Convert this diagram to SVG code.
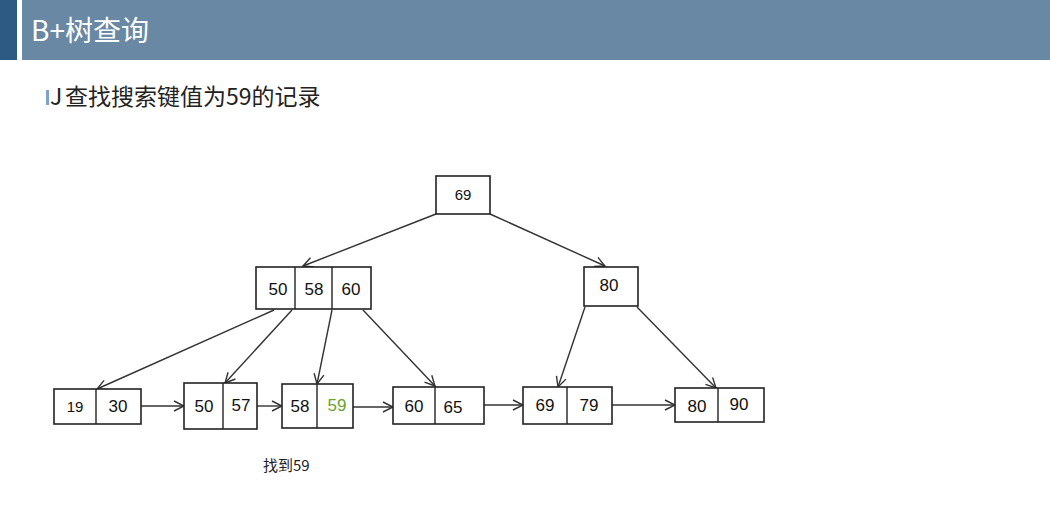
<svg xmlns="http://www.w3.org/2000/svg" width="1050" height="518" viewBox="0 0 1050 518">
<style>
.box{fill:#fff;stroke:#222;stroke-width:1.6}
.div{stroke:#222;stroke-width:1.4}
.k{font-family:"Liberation Sans","DejaVu Sans",sans-serif;font-size:17px;fill:#111;text-anchor:middle}
.ks{font-size:15px}
.g{fill:#6aa22e}
.edge{stroke:#333;stroke-width:1.4;fill:none;marker-end:url(#ah)}
.cjk{font-family:"Noto Sans CJK SC","Noto Sans",sans-serif}
</style>
<defs>
<marker id="ah" viewBox="0 0 12 12" refX="11" refY="6" markerWidth="12" markerHeight="12" markerUnits="userSpaceOnUse" orient="auto">
<path d="M1,1 L11,6 L1,11" fill="none" stroke="#333" stroke-width="1.4"/>
</marker>
</defs>
<rect width="1050" height="518" fill="#fff"/>
<g id="header">
<rect x="0" y="0" width="17" height="60" fill="#2c5a82"/>
<rect x="22" y="0" width="1028" height="60" fill="#6888a3"/>
<text x="31" y="41" class="cjk" font-size="28" fill="#fff">B+树查询</text>
</g>
<g id="subtitle">
<rect x="46" y="90" width="3" height="15" fill="#7fa3c6"/>
<text x="50" y="105" class="cjk" font-size="23" fill="#222">J<tspan x="65">查找搜索键值为59的记录</tspan></text>
</g>
<g id="connectors">
<line class="edge" x1="436" y1="214" x2="303" y2="266"/>
<line class="edge" x1="490" y1="214" x2="605" y2="266"/>
<line class="edge" x1="274" y1="310" x2="97" y2="389"/>
<line class="edge" x1="292" y1="310" x2="225" y2="383"/>
<line class="edge" x1="332" y1="310" x2="317" y2="384"/>
<line class="edge" x1="363" y1="310" x2="435" y2="386"/>
<line class="edge" x1="585" y1="307" x2="558" y2="387"/>
<line class="edge" x1="637" y1="307" x2="716" y2="388"/>
<line class="edge" x1="141" y1="406" x2="184" y2="406"/>
<line class="edge" x1="257" y1="406" x2="282" y2="406"/>
<line class="edge" x1="353" y1="407" x2="393" y2="407"/>
<line class="edge" x1="484" y1="405" x2="523" y2="405"/>
<line class="edge" x1="612" y1="405" x2="675" y2="405"/>
</g>
<g id="root">
<rect class="box" x="436" y="176" width="54" height="38"/>
<text class="k ks" x="463" y="200">69</text>
</g>
<g id="n50_58_60">
<rect class="box" x="256" y="267" width="115" height="42"/>
<line class="div" x1="295" y1="267" x2="295" y2="309"/>
<line class="div" x1="332" y1="267" x2="332" y2="309"/>
<text class="k" x="278" y="295">50</text>
<text class="k" x="314" y="295">58</text>
<text class="k" x="351" y="295">60</text>
</g>
<g id="n80">
<rect class="box" x="584" y="267" width="54" height="39"/>
<text class="k" x="609" y="291">80</text>
</g>
<g id="l19_30">
<rect class="box" x="54" y="389" width="87" height="35"/>
<line class="div" x1="96" y1="389" x2="96" y2="424"/>
<text class="k ks" x="75" y="412">19</text>
<text class="k" x="118" y="412">30</text>
</g>
<g id="l50_57">
<rect class="box" x="184" y="383" width="73" height="46"/>
<line class="div" x1="223" y1="383" x2="223" y2="429"/>
<text class="k" x="204" y="412">50</text>
<text class="k" x="241" y="411">57</text>
</g>
<g id="l58_59">
<rect class="box" x="282" y="384" width="71" height="44"/>
<line class="div" x1="317" y1="384" x2="317" y2="428"/>
<text class="k" x="300" y="412">58</text>
<text class="k g" x="337" y="411">59</text>
</g>
<g id="l60_65">
<rect class="box" x="393" y="387" width="91" height="37"/>
<line class="div" x1="435" y1="387" x2="435" y2="424"/>
<text class="k" x="414" y="412">60</text>
<text class="k" x="453" y="413">65</text>
</g>
<g id="l69_79">
<rect class="box" x="523" y="387" width="89" height="37"/>
<line class="div" x1="567" y1="387" x2="567" y2="424"/>
<text class="k" x="545" y="411">69</text>
<text class="k" x="589" y="411">79</text>
</g>
<g id="l80_90">
<rect class="box" x="675" y="388" width="89" height="34"/>
<line class="div" x1="718" y1="388" x2="718" y2="422"/>
<text class="k" x="697" y="412">80</text>
<text class="k" x="739" y="410">90</text>
</g>
<text x="263" y="471" class="cjk" font-size="15" fill="#222">找到59</text>
</svg>
